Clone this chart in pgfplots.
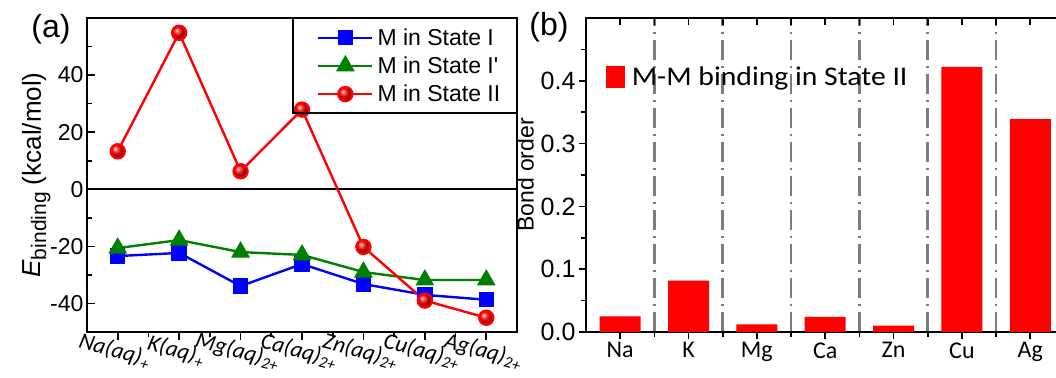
\documentclass[border=0pt]{standalone}
\usepackage{pgfplots}
\pgfplotsset{compat=1.18}
\usepackage{fontspec}
\setmainfont{Liberation Sans}
\newfontfamily\carlito{Carlito}
\newfontfamily\carlitow{Carlito}[FakeStretch=1.1]
\usetikzlibrary{plotmarks}
\definecolor{dgreen}{RGB}{0,128,0}
\definecolor{gline}{RGB}{125,125,125}
\newcommand{\fs}[1]{\fontsize{#1}{#1}\selectfont}
\begin{document}
\begin{tikzpicture}
\begin{axis}[
  at={(87pt,45pt)}, anchor=south west,
  scale only axis, width=430pt, height=314pt,
  xmin=-0.5, xmax=6.5, ymin=-50, ymax=60,
  xtick={0,...,6}, minor xtick={0.5,1.5,...,5.5},
  xticklabels={{Na(aq)\textsubscript{+}},{K(aq)\textsubscript{+}},{Mg(aq)\textsubscript{2+}},{Ca(aq)\textsubscript{2+}},{Zn(aq)\textsubscript{2+}},{Cu(aq)\textsubscript{2+}},{Ag(aq)\textsubscript{2+}}},
  ytick={-40,-20,0,20,40}, minor ytick={-50,-30,-10,10,30,50},
  xtick pos=bottom, ytick pos=left,
  xtick align=outside, ytick align=inside,
  major tick length=8pt, minor tick length=5pt,
  every tick/.style={black, line width=1.6pt},
  axis line style={line width=2.2pt},
  /pgf/number format/assume math mode=true,
  yticklabel style={font=\fs{23}},
  xticklabel style={font=\fs{23}\carlito\itshape, rotate=-15, anchor=north, inner sep=1pt},
  ylabel={\textit{E}{\fs{21}\raisebox{-0.25em}{binding}} (kcal/mol)},
  ylabel style={font=\fs{26}, yshift=-7pt},
  legend style={at={(1,1)}, anchor=north east, draw=black, fill=none, line width=1.4pt,
    inner xsep=14pt, inner ysep=8pt, font=\fs{23}, row sep=6pt,
    /tikz/every odd column/.append style={column sep=2pt}},
  legend cell align=left,
  legend image code/.code={\path (0pt,0pt); \draw[mark repeat=2,mark phase=2,#1] plot coordinates {(10pt,0pt) (37pt,0pt) (64pt,0pt)};},
]
\addplot[black, line width=1.8pt, forget plot] coordinates {(-0.5,0) (6.5,0)};
\addplot[blue, line width=2.4pt, mark=square*, mark size=6.5pt, mark options={solid}] coordinates {
(0,-23.4) (1,-22.3) (2,-33.9) (3,-26.2) (4,-33.2) (5,-37.0) (6,-38.7)};
\addlegendentry{M in State I}
\addplot[dgreen, line width=2.4pt, mark=triangle*, mark size=8.5pt] coordinates {
(0,-20.6) (1,-17.8) (2,-22.0) (3,-23.0) (4,-29.0) (5,-31.8) (6,-31.8)};
\addlegendentry{M in State I\textquotesingle}
\addplot[red, line width=2.4pt, mark=ball, mark size=7pt, mark options={ball color=red}] coordinates {
(0,13.3) (1,54.8) (2,6.3) (3,27.9) (4,-20.2) (5,-39.0) (6,-45.0)};
\addlegendentry{M in State II}
\end{axis}

\begin{axis}[
  at={(586pt,45pt)}, anchor=south west,
  scale only axis, width=475pt, height=314pt,
  xmin=-0.5, xmax=6.45, ymin=0, ymax=0.5,
  xtick={0,...,6}, xticklabels={Na,K,Mg,Ca,Zn,Cu,Ag},
  minor xtick={0.5,1.5,...,5.5},
  xminorgrids,
  minor grid style={gline, line width=2.6pt, dash pattern=on 20pt off 6pt on 2pt off 6pt},
  ytick={0,0.1,0.2,0.3,0.4}, minor ytick={0.05,0.15,0.25,0.35,0.45},
  ytick pos=left, xtick pos=bottom,
  tick align=outside,
  major tick length=7pt, minor tick length=5pt,
  every tick/.style={black, line width=1.6pt},
  axis line style={line width=2.2pt},
  /pgf/number format/assume math mode=true,
  yticklabel style={font=\fs{25}, /pgf/number format/.cd, fixed, fixed zerofill, precision=1},
  xticklabel style={font=\fs{24}\carlito},
  ylabel={Bond order},
  ylabel style={font=\fs{23}},
  legend style={at={(0.035,0.812)}, anchor=west, draw=none, fill=none, font=\fs{27}\carlitow,
    /tikz/every odd column/.append style={column sep=5pt}},
  legend image code/.code={\fill[red] (0pt,-11pt) rectangle (19pt,11pt);},
]
\addplot[ybar, bar width=0.6, bar shift=0pt, fill=red, draw=none] coordinates {
(0,0.025) (1,0.082) (2,0.012) (3,0.024) (4,0.010) (5,0.422) (6,0.339)};
\addlegendentry{M-M binding in State II}
\end{axis}

\begin{axis}[
  at={(586pt,45pt)}, anchor=south west,
  scale only axis, width=475pt, height=314pt,
  xmin=-0.5, xmax=6.45, ymin=0, ymax=0.5,
  axis line style={draw=none},
  xtick={0,...,6}, minor xtick={0.5,1.5,...,5.5},
  xticklabels={}, ytick=\empty,
  xtick pos=top, tick align=inside,
  major tick length=7pt, minor tick length=7pt,
  every tick/.style={black, line width=1.6pt},
]
\end{axis}

\node[font=\fs{32}] at (51pt,348pt) {(a)};
\node[font=\fs{32}] at (549pt,350pt) {(b)};
\pgfresetboundingbox
\useasboundingbox (0pt,0pt) rectangle (1056pt,377pt);
\end{tikzpicture}
\end{document}
